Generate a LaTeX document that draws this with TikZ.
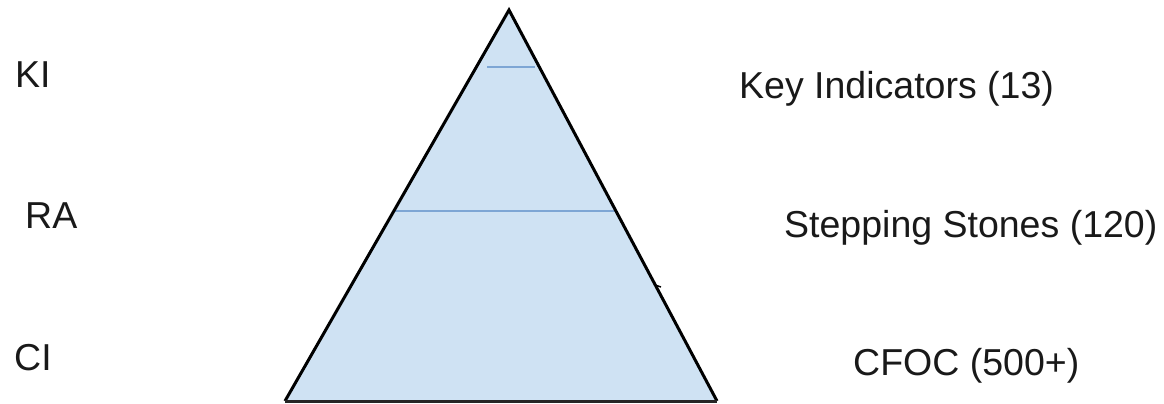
\documentclass[tikz,border=0pt]{standalone}
\usepackage{fontspec}
\setmainfont{Liberation Sans}
\definecolor{pyrfill}{HTML}{CFE2F3}
\definecolor{divline}{HTML}{7EA6D4}
\tikzset{
  lbl/.style={anchor=base west, inner sep=0pt, font=\fontsize{37.5}{40}\selectfont, text=black!90},
  edge/.style={draw=black, line width=3pt, line join=miter},
  divider/.style={draw=divline, line width=1.8pt}
}
\begin{document}
\begin{tikzpicture}[x=1pt,y=-1pt]
\useasboundingbox (0,0) rectangle (1164,404);
\coordinate (apex) at (509,10);
\coordinate (bl) at (285,401);
\coordinate (br) at (717,401);
\fill[pyrfill] (apex) -- (br) -- (bl) -- cycle;
\coordinate (t1) at (487,67);
\coordinate (t2) at (535,67);
\coordinate (m1) at (393,211);
\coordinate (m2) at (615,211);
\draw[divider] (t1) -- (t2);
\draw[divider] (m1) -- (m2);
\draw[edge] (bl) -- (apex) -- (br);
\draw[draw=black!85, line width=3pt] (bl) -- (br);
\coordinate (tk1) at (655,285);
\coordinate (tk2) at (661,287);
\draw[black, line width=1.5pt] (tk1) -- (tk2);
\node[lbl] (ki) at (15,87) {KI};
\node[lbl] (ra) at (25,228) {RA};
\node[lbl] (ci) at (14,370) {CI};
\node[lbl] (key) at (739,99) {Key Indicators (13)};
\node[lbl] (step) at (784,237) {Stepping Stones (120)};
\node[lbl] (cfoc) at (853,375) {CFOC (500+)};
\end{tikzpicture}
\end{document}
